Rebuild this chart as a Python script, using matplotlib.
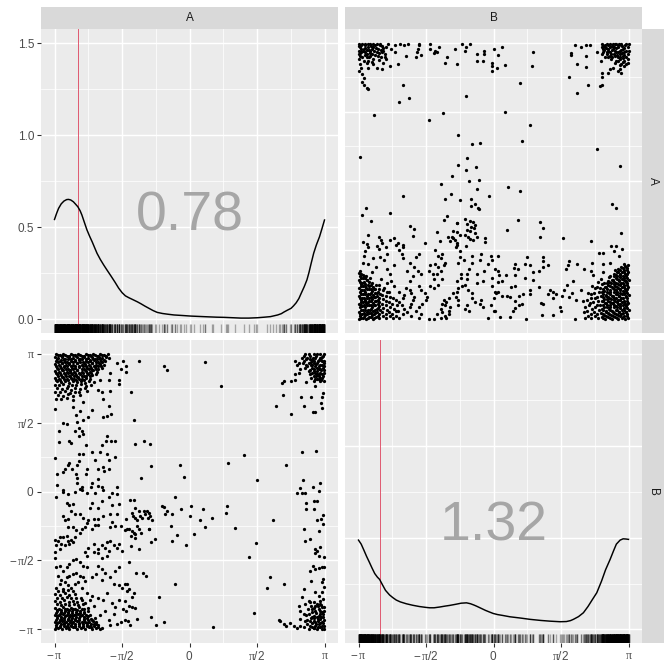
import numpy as np
import matplotlib.pyplot as plt

plt.rcParams['font.family'] = ['Liberation Sans', 'DejaVu Sans']
plt.rcParams['mathtext.fontset'] = 'custom'
plt.rcParams['mathtext.rm'] = 'Liberation Sans'
plt.rcParams['mathtext.it'] = 'Liberation Serif'

# angles are given in units of pi: (A/pi, B/pi)
blob_top = [(-0.99,0.995),(-0.96,0.99),(-0.935,1.0),(-0.905,0.985),(-0.88,0.995),(-0.85,0.99),(-0.825,1.0),(-0.795,0.985),(-0.77,0.995),(-0.74,0.99),(-0.715,1.0),(-0.685,0.985),(-0.66,0.995),(-0.63,0.99),(-0.605,0.995),
    (-1.0,0.975),(-0.975,0.97),(-0.945,0.98),(-0.92,0.965),(-0.89,0.975),(-0.865,0.97),(-0.835,0.98),(-0.81,0.965),(-0.78,0.975),(-0.755,0.97),(-0.725,0.98),(-0.70,0.965),(-0.67,0.975),(-0.645,0.97),(-0.615,0.975),
    (-0.99,0.95),(-0.96,0.945),(-0.93,0.955),(-0.905,0.94),(-0.875,0.95),(-0.85,0.945),(-0.82,0.955),(-0.79,0.94),(-0.765,0.95),(-0.735,0.945),(-0.71,0.955),(-0.68,0.94),(-0.655,0.95),(-0.625,0.945),
    (-1.0,0.925),(-0.97,0.92),(-0.945,0.93),(-0.915,0.915),(-0.89,0.925),(-0.86,0.92),(-0.83,0.93),(-0.80,0.915),(-0.775,0.925),(-0.745,0.92),(-0.72,0.93),(-0.69,0.915),(-0.66,0.925),(-0.635,0.92),
    (-0.985,0.9),(-0.955,0.895),(-0.93,0.905),(-0.90,0.89),(-0.87,0.9),(-0.845,0.895),(-0.815,0.905),(-0.785,0.89),(-0.76,0.9),(-0.73,0.895),(-0.70,0.905),(-0.675,0.89),(-0.645,0.9),
    (-1.0,0.875),(-0.97,0.87),(-0.94,0.88),(-0.91,0.865),(-0.885,0.875),(-0.855,0.87),(-0.83,0.88),(-0.80,0.865),(-0.77,0.875),(-0.74,0.87),(-0.715,0.88),(-0.685,0.865),
    (-0.985,0.85),(-0.955,0.845),(-0.925,0.855),(-0.895,0.84),(-0.87,0.85),(-0.84,0.845),(-0.81,0.855),(-0.785,0.84),(-0.755,0.85),(-0.725,0.845),(-0.695,0.855),
    (-1.0,0.825),(-0.97,0.82),(-0.94,0.83),(-0.91,0.815),(-0.88,0.825),(-0.855,0.82),(-0.825,0.83),(-0.795,0.815),(-0.765,0.825),(-0.735,0.82),
    (-0.985,0.8),(-0.955,0.795),(-0.925,0.805),(-0.895,0.79),(-0.865,0.8),(-0.835,0.795),(-0.805,0.805),(-0.775,0.79),(-0.745,0.8),(-0.71,0.795),
    (-0.995,0.775),(-0.965,0.77),(-0.935,0.78),(-0.9,0.765),(-0.87,0.775),(-0.84,0.77),(-0.805,0.78),(-0.765,0.765),(-0.73,0.775),
    (-0.98,0.75),(-0.945,0.745),(-0.91,0.755),(-0.875,0.74),(-0.845,0.75),(-0.81,0.745),(-0.775,0.755),
    (-0.995,0.725),(-0.96,0.72),(-0.925,0.73),(-0.885,0.715),(-0.85,0.725),(-0.815,0.72),(-0.76,0.73),
    (-0.975,0.7),(-0.94,0.695),(-0.9,0.705),(-0.86,0.69),(-0.81,0.7),
    (-0.99,0.675),(-0.95,0.67),(-0.91,0.68),(-0.865,0.665)]

blob_top_fill = [(-0.975,0.988),(-0.945,0.984),(-0.92,0.99),(-0.89,0.986),(-0.865,0.99),(-0.84,0.984),(-0.81,0.99),(-0.785,0.986),(-0.755,0.99),(-0.73,0.984),(-0.70,0.99),(-0.675,0.986),(-0.645,0.99),(-0.62,0.984),
    (-0.985,0.962),(-0.955,0.958),(-0.93,0.964),(-0.9,0.96),(-0.875,0.964),(-0.85,0.958),(-0.82,0.964),(-0.795,0.96),(-0.77,0.964),(-0.74,0.958),(-0.715,0.964),(-0.685,0.96),(-0.66,0.964),(-0.63,0.958),
    (-0.975,0.937),(-0.945,0.933),(-0.92,0.939),(-0.89,0.935),(-0.86,0.939),(-0.835,0.933),(-0.81,0.939),(-0.78,0.935),(-0.75,0.939),(-0.725,0.933),(-0.695,0.939),(-0.67,0.935),(-0.645,0.939),
    (-0.99,0.912),(-0.96,0.908),(-0.93,0.914),(-0.905,0.91),(-0.875,0.914),(-0.85,0.908),(-0.82,0.914),(-0.79,0.91),(-0.765,0.914),(-0.735,0.908),(-0.71,0.914),(-0.68,0.91),(-0.655,0.914),
    (-0.975,0.887),(-0.945,0.883),(-0.915,0.889),(-0.885,0.885),(-0.86,0.889),(-0.83,0.883),(-0.8,0.889),(-0.775,0.885),(-0.745,0.889),(-0.72,0.883),(-0.69,0.889),
    (-0.99,0.862),(-0.96,0.858),(-0.93,0.864),(-0.9,0.86),(-0.875,0.864),(-0.845,0.858),(-0.815,0.864),(-0.79,0.86),(-0.76,0.864),(-0.73,0.858),
    (-0.975,0.837),(-0.945,0.833),(-0.915,0.839),(-0.885,0.835),(-0.855,0.839),(-0.83,0.833),(-0.8,0.839),(-0.77,0.835),(-0.74,0.839),
    (-0.99,0.812),(-0.96,0.808),(-0.93,0.814),(-0.9,0.81),(-0.87,0.814),(-0.84,0.808),(-0.815,0.814),(-0.785,0.81)]

blob_bottom = [(-1.0,-0.995),(-0.975,-0.99),(-0.945,-1.0),(-0.915,-0.99),(-0.89,-0.995),(-0.86,-0.985),(-0.83,-1.0),(-0.805,-0.99),(-0.775,-0.995),(-0.745,-0.985),(-0.72,-0.995),(-0.69,-0.99),(-0.665,-1.0),
    (-0.99,-0.97),(-0.96,-0.975),(-0.93,-0.965),(-0.905,-0.975),(-0.875,-0.97),(-0.845,-0.975),(-0.82,-0.965),(-0.79,-0.975),(-0.76,-0.97),(-0.735,-0.975),(-0.705,-0.965),(-0.68,-0.97),
    (-1.0,-0.945),(-0.97,-0.95),(-0.945,-0.94),(-0.915,-0.95),(-0.885,-0.945),(-0.86,-0.95),(-0.83,-0.94),(-0.8,-0.95),(-0.775,-0.945),(-0.745,-0.95),(-0.715,-0.94),(-0.69,-0.945),
    (-0.985,-0.92),(-0.955,-0.925),(-0.93,-0.915),(-0.9,-0.925),(-0.87,-0.92),(-0.845,-0.925),(-0.815,-0.915),(-0.785,-0.925),(-0.76,-0.92),(-0.73,-0.925),(-0.7,-0.915),
    (-1.0,-0.895),(-0.97,-0.9),(-0.94,-0.89),(-0.91,-0.9),(-0.885,-0.895),(-0.855,-0.9),(-0.825,-0.89),(-0.795,-0.9),(-0.77,-0.895),(-0.74,-0.9),
    (-0.985,-0.87),(-0.955,-0.875),(-0.925,-0.865),(-0.9,-0.875),(-0.87,-0.87),(-0.84,-0.875),(-0.81,-0.865),(-0.785,-0.875),(-0.755,-0.87),
    (-0.995,-0.845),(-0.965,-0.85),(-0.935,-0.84),(-0.905,-0.85),(-0.875,-0.845),(-0.845,-0.85),(-0.815,-0.84),(-0.785,-0.85),(-0.75,-0.845),
    (-0.98,-0.82),(-0.95,-0.825),(-0.92,-0.815),(-0.89,-0.825),(-0.855,-0.82),(-0.825,-0.825),(-0.79,-0.815),
    (-0.995,-0.795),(-0.96,-0.8),(-0.93,-0.79),(-0.895,-0.8),(-0.865,-0.795),(-0.83,-0.8),(-0.8,-0.79),
    (-0.98,-0.77),(-0.945,-0.775),(-0.91,-0.765),(-0.875,-0.775),(-0.84,-0.77),(-0.805,-0.775),
    (-0.995,-0.745),(-0.96,-0.75),(-0.925,-0.74),(-0.89,-0.75),(-0.85,-0.745),
    (-0.975,-0.72),(-0.94,-0.725),(-0.9,-0.715),(-0.86,-0.725)]

blob_bottom_fill = [(-0.99,-0.982),(-0.96,-0.986),(-0.93,-0.98),(-0.9,-0.984),(-0.875,-0.98),(-0.845,-0.986),(-0.815,-0.98),(-0.79,-0.984),(-0.76,-0.98),(-0.73,-0.986),(-0.705,-0.98),(-0.675,-0.984),
    (-0.985,-0.957),(-0.955,-0.961),(-0.93,-0.955),(-0.9,-0.959),(-0.87,-0.955),(-0.845,-0.961),(-0.815,-0.955),(-0.79,-0.959),(-0.76,-0.955),(-0.73,-0.961),(-0.7,-0.955),
    (-0.99,-0.932),(-0.96,-0.936),(-0.93,-0.93),(-0.9,-0.934),(-0.875,-0.93),(-0.845,-0.936),(-0.815,-0.93),(-0.785,-0.934),(-0.755,-0.93),(-0.72,-0.936),
    (-0.985,-0.907),(-0.955,-0.911),(-0.925,-0.905),(-0.895,-0.909),(-0.87,-0.905),(-0.84,-0.911),(-0.81,-0.905),(-0.78,-0.909),(-0.75,-0.905),
    (-0.99,-0.882),(-0.96,-0.886),(-0.93,-0.88),(-0.9,-0.884),(-0.87,-0.88),(-0.84,-0.886),(-0.81,-0.88),(-0.78,-0.884),
    (-0.98,-0.857),(-0.95,-0.861),(-0.92,-0.855),(-0.89,-0.859),(-0.86,-0.855),(-0.83,-0.861),(-0.8,-0.855)]

left_upper = [(-0.60,0.97),(-0.54,0.93),(-0.49,0.95),(-0.51,0.89),(-0.47,0.91),(-0.47,0.87),
    (-0.59,0.86),(-0.60,0.81),(-0.66,0.81),(-0.68,0.74),(-0.65,0.72),(-0.64,0.67),(-0.59,0.73),(-0.52,0.81),(-0.52,0.78),
    (-1.0,0.60),(-0.86,0.61),(-0.81,0.585),(-0.84,0.556),(-0.79,0.65),(-0.725,0.59),(-0.75,0.543),(-0.79,0.52),(-0.83,0.507),
    (-0.60,0.62),(-0.64,0.54),(-0.61,0.55),(-0.58,0.56),(-0.94,0.50),(-0.91,0.49),(-0.97,0.44),(-0.82,0.46),(-0.80,0.44),
    (-0.79,0.42),(-0.85,0.44),(-0.97,0.36),(-0.89,0.37),(-0.88,0.35),(-0.82,0.40),(-0.61,0.40),(-0.58,0.37),(-0.55,0.37),
    (-0.62,0.37),(-0.65,0.34),(-0.77,0.34),(-0.72,0.29),(-0.66,0.29),(-0.61,0.27),(-0.60,0.23),(-0.55,0.25),(-1.0,0.24),
    (-0.79,0.27),(-0.82,0.27),(-0.82,0.22),(-0.83,0.19),(-0.89,0.21),(-0.90,0.19),(-0.92,0.16),(-0.87,0.16),(-0.70,0.23),
    (-0.64,0.18),(-0.63,0.15),(-0.60,0.16),(-0.68,0.16),(-0.76,0.16),(-0.77,0.13),(-0.985,0.125),(-0.94,0.145),(-0.84,0.125),
    (-0.83,0.10),(-0.83,0.065),(-0.725,0.065),(-0.68,0.09),(-0.68,0.04),(-0.65,0.03),(-0.73,0.03),(-0.985,0.05),(-0.94,0.01),
    (-0.80,0.03),(-0.80,0.01),(-0.54,0.03)]

left_lower = [(-0.99,-0.04),(-0.94,0.0),(-0.90,-0.02),(-0.85,0.0),(-0.81,0.02),(-0.76,-0.01),(-0.70,-0.01),(-0.64,0.01),
    (-0.575,-0.01),(-0.54,-0.02),(-0.525,-0.09),(-0.91,-0.08),(-0.89,-0.10),(-0.86,-0.09),(-0.725,-0.08),(-0.74,-0.12),
    (-0.65,-0.07),(-0.60,-0.04),(-0.675,-0.12),(-0.575,-0.10),
    (-0.875,-0.14),(-0.85,-0.16),(-0.94,-0.18),(-0.925,-0.21),(-0.90,-0.20),(-0.81,-0.16),(-0.79,-0.19),(-0.75,-0.21),
    (-0.71,-0.20),(-0.675,-0.20),(-0.64,-0.18),(-0.59,-0.16),(-0.54,-0.16),(-0.76,-0.23),(-0.575,-0.22),(-0.70,-0.24),
    (-0.90,-0.26),(-0.86,-0.26),(-0.84,-0.28),(-0.80,-0.27),(-0.775,-0.26),(-0.725,-0.27),(-0.675,-0.24),(-0.59,-0.26),
    (-0.55,-0.25),(-0.51,-0.25),(-0.475,-0.28),(-0.46,-0.27),(-0.81,-0.30),
    (-0.995,-0.35),(-0.975,-0.36),(-0.96,-0.33),(-0.94,-0.33),(-0.91,-0.32),(-0.90,-0.36),(-0.875,-0.35),(-0.85,-0.33),
    (-0.99,-0.39),(-0.95,-0.38),(-0.925,-0.39),(-0.89,-0.38),(-0.86,-0.37),(-1.0,-0.44),(-0.96,-0.42),(-1.0,-0.48),
    (-0.775,-0.44),(-0.75,-0.41),(-0.71,-0.38),(-0.675,-0.42),(-0.65,-0.39),(-0.61,-0.37),(-0.59,-0.36),(-0.625,-0.41),
    (-0.60,-0.43),(-0.56,-0.39),(-0.54,-0.41),(-0.525,-0.38),(-0.50,-0.43),(-0.71,-0.44),(-0.675,-0.45),(-0.65,-0.48),
    (-0.61,-0.47),(-0.76,-0.47),
    (-0.99,-0.55),(-0.96,-0.54),(-0.94,-0.575),(-0.91,-0.55),(-0.89,-0.53),(-0.86,-0.50),(-0.84,-0.49),(-0.81,-0.51),
    (-0.79,-0.54),(-0.76,-0.55),(-0.975,-0.61),(-0.95,-0.64),(-0.91,-0.62),(-0.89,-0.61),(-0.86,-0.60),(-0.84,-0.59),
    (-0.81,-0.61),(-0.79,-0.62),(-0.96,-0.67),(-0.925,-0.66),(-0.90,-0.68),(-0.85,-0.67),(-0.825,-0.66),(-0.775,-0.65),
    (-0.99,-0.70),(-0.94,-0.71),(-0.875,-0.70),(-0.80,-0.70),
    (-0.675,-0.54),(-0.69,-0.60),(-0.65,-0.56),(-0.625,-0.59),(-0.59,-0.62),(-0.55,-0.575),(-0.525,-0.55),(-0.56,-0.67),
    (-0.525,-0.68),(-0.50,-0.70),(-0.475,-0.67),(-0.65,-0.64),(-0.725,-0.62),
    (-0.76,-0.74),(-0.725,-0.76),(-0.775,-0.81),(-0.74,-0.79),(-0.71,-0.83),(-0.675,-0.77),(-0.64,-0.79),(-0.61,-0.74),
    (-0.575,-0.81),(-0.55,-0.84),(-0.525,-0.79),(-0.49,-0.85),(-0.625,-0.87),(-0.66,-0.90),(-0.60,-0.93),(-0.56,-0.89),
    (-0.54,-0.96),(-0.59,-0.97),(-0.51,-0.95),(-0.475,-0.93),(-0.65,-0.99),(-0.69,-0.96)]

middle = [(-0.377,0.946),(-0.192,0.91),(-0.167,0.879),(0.112,0.937),(0.23,0.768),(0.64,0.62),
    (-0.436,0.724),(-0.41,0.516),(-0.402,0.347),(-0.34,0.367),(-0.296,0.343),(-0.283,0.185),(-0.357,0.101),
    (-0.069,0.193),(-0.041,0.108),(0.287,0.21),(0.405,0.268),(0.502,0.082),
    (-0.444,-0.063),(-0.414,-0.063),(-0.11,-0.037),
    (-0.427,-0.153),(-0.407,-0.121),(-0.422,-0.177),(-0.402,-0.189),(-0.377,-0.14),(-0.365,-0.177),(-0.34,-0.145),
    (-0.316,-0.14),(-0.298,-0.153),(-0.333,-0.165),(-0.291,-0.177),(-0.278,-0.208),(-0.308,-0.194),(-0.353,-0.194),(-0.39,-0.208),
    (-0.469,-0.201),(-0.446,-0.273),(-0.427,-0.285),(-0.414,-0.298),(-0.402,-0.31),(-0.432,-0.322),(-0.407,-0.334),
    (-0.39,-0.249),(-0.372,-0.273),(-0.36,-0.3),(-0.303,-0.273),(-0.434,-0.394),(-0.372,-0.418),
    (-0.204,-0.107),(-0.192,-0.116),(-0.167,-0.14),(-0.18,-0.165),(-0.13,-0.165),(-0.061,-0.124),(0.01,-0.104),
    (0.003,-0.179),(0.1,-0.128),(0.077,-0.206),(0.166,-0.196),(0.114,-0.261),(0.035,-0.307),(-0.024,-0.387),
    (-0.096,-0.317),(-0.13,-0.358),(-0.135,-0.249),(-0.254,-0.346),(-0.283,-0.37),(-0.301,-0.271),
    (0.277,-0.102),(0.27,-0.157),(0.334,-0.264),(0.618,-0.206),(0.494,-0.377),(0.443,-0.476),
    (-0.451,-0.51),(-0.395,-0.595),(-0.345,-0.592),(-0.323,-0.616),(-0.11,-0.67),
    (-0.464,-0.672),(-0.451,-0.708),(-0.464,-0.725),(-0.414,-0.74),(-0.427,-0.769),(-0.446,-0.829),(-0.427,-0.836),
    (-0.402,-0.846),(-0.469,-0.865),(-0.456,-0.938),(-0.439,-0.967),(-0.39,-0.926),(-0.286,-0.909),(-0.229,-0.769),
    (-0.192,-0.945),(-0.246,-0.972),(-0.476,-0.793),
    (0.176,-0.986),(0.479,-0.882),(0.598,-0.624),(0.573,-0.701),(0.665,-0.933)]

right_strip = [(0.783,0.946),(0.795,0.922),(0.808,0.934),(0.832,0.97),(0.85,0.946),(0.87,0.97),(0.882,0.934),(0.894,0.983),
    (0.919,0.995),(0.944,1.0),(0.968,0.995),(0.993,1.0),(0.907,0.898),(0.919,0.874),(0.931,0.91),(0.944,0.85),
    (0.956,0.886),(0.968,0.862),(0.981,0.946),(0.988,0.898),(0.981,0.826),(0.993,0.801),(0.956,0.814),(0.919,0.838),
    (0.894,0.85),(0.882,0.874),(0.857,0.898),(0.82,0.886),(0.808,0.862),(0.783,0.85),(0.697,0.801),(0.684,0.79),
    (0.753,0.801),(0.783,0.806),(0.865,0.794),(0.931,0.765),
    (0.907,0.958),(0.931,0.97),(0.956,0.958),(0.981,0.975),(0.919,0.934),(0.944,0.934),(0.968,0.922),(0.993,0.91),
    (0.944,0.898),(0.968,0.893),(0.931,0.862),(0.956,0.85),(0.993,0.862),(0.968,0.826),(0.931,0.814),(0.907,0.862),
    (0.993,0.946),(0.882,0.995),(0.857,0.995),(0.899,0.922),(0.87,0.91),(0.919,0.801),(0.968,0.801),(0.988,0.838),
    (0.692,0.698),(0.828,0.684),(0.902,0.688),(0.845,0.618),(0.986,0.717),(0.981,0.684),(0.973,0.645),(0.981,0.603),
    (0.912,0.577),(0.926,0.577),(0.753,0.56),
    (0.832,0.287),(0.936,0.292),(0.712,0.195),
    (0.84,0.086),(0.815,0.028),(0.795,-0.008),(0.832,-0.008),(0.857,-0.013),(0.912,0.036),(0.968,0.065),(0.956,0.004),
    (0.865,-0.08),(0.865,-0.124),(0.919,-0.068),(0.944,-0.068),(0.919,-0.124),
    (0.988,-0.172),(0.973,-0.201),(0.944,-0.208),(0.988,-0.237),(0.956,-0.285),(0.845,-0.273),(0.852,-0.358),(0.894,-0.346),
    (0.931,-0.418),(0.944,-0.43),(0.968,-0.406),(0.956,-0.467),(0.993,-0.474),(0.926,-0.443),
    (0.912,-0.539),(0.931,-0.563),(0.956,-0.556),(0.981,-0.551),(0.993,-0.551),(0.894,-0.575),(0.697,-0.672),(0.845,-0.708),
    (0.902,-0.648),(0.988,-0.636),(0.981,-0.66),(0.931,-0.732),(0.956,-0.757),(0.993,-0.696),(0.981,-0.732),
    (0.832,-0.769),(0.808,-0.829),(0.82,-0.865),(0.857,-0.817),(0.882,-0.793),(0.919,-0.805),(0.944,-0.817),(0.968,-0.793),
    (0.988,-0.781),(0.907,-0.853),(0.931,-0.865),(0.956,-0.853),(0.981,-0.841),(0.993,-0.865),(0.845,-0.889),(0.882,-0.889),
    (0.919,-0.901),(0.944,-0.914),(0.968,-0.889),(0.988,-0.914),(0.82,-0.926),(0.857,-0.938),(0.894,-0.938),(0.931,-0.95),
    (0.956,-0.962),(0.981,-0.95),(0.993,-0.974),(0.907,-0.986),(0.944,-0.998),(0.968,-0.986),(0.882,-0.998),(0.845,-0.986),
    (0.82,-0.98),(0.795,-0.993),(0.993,-0.998),(0.919,-0.993),(0.697,-0.962),(0.746,-0.957),(0.771,-0.974),(0.672,-0.938),
    (0.716,-0.974),(0.968,-0.926),(0.919,-0.938),(0.956,-0.901),(0.981,-0.877),(0.931,-0.829),(0.963,-0.817),(0.907,-0.914),
    (0.87,-0.962),(0.931,-0.98),(0.981,-0.98),(0.951,-0.938),(0.894,-0.805)]

right_fill = [(0.89,0.96),(0.915,0.97),(0.94,0.985),(0.965,0.97),(0.99,0.985),(0.9,0.94),(0.925,0.95),(0.95,0.945),
    (0.975,0.955),(0.995,0.93),(0.91,0.915),(0.935,0.925),(0.96,0.91),(0.985,0.92),(0.92,0.89),(0.945,0.875),
    (0.975,0.88),(0.995,0.885),(0.895,0.88),(0.935,0.84),(0.96,0.835),(0.985,0.85),(0.9,0.825),(0.945,0.82),
    (0.975,0.81),(0.86,0.96),(0.84,0.935),(0.865,0.92),(0.85,0.985),
    (0.9,-0.83),(0.925,-0.845),(0.95,-0.83),(0.975,-0.825),(0.995,-0.84),(0.91,-0.875),(0.94,-0.885),(0.965,-0.87),
    (0.99,-0.89),(0.9,-0.92),(0.925,-0.915),(0.95,-0.925),(0.975,-0.91),(0.995,-0.93),(0.91,-0.955),(0.94,-0.965),
    (0.965,-0.955),(0.99,-0.955),(0.925,-0.99),(0.955,-0.985),(0.98,-0.995),(0.895,-0.975),(0.87,-0.93),(0.86,-0.9),
    (0.875,-0.85)]

dens_a_x = [-1.0, -0.985, -0.97, -0.95, -0.93, -0.91, -0.896, -0.88, -0.86, -0.845, -0.827, -0.81, -0.797, -0.78,
            -0.76, -0.74, -0.72, -0.70, -0.685, -0.66, -0.635, -0.611, -0.58, -0.55, -0.525, -0.499, -0.475, -0.45,
            -0.43, -0.413, -0.385, -0.36, -0.33, -0.30, -0.27, -0.239, -0.2, -0.16, -0.115, -0.05, 0.009, 0.07,
            0.133, 0.2, 0.256, 0.32, 0.38, 0.44, 0.504, 0.555, 0.60, 0.653, 0.68, 0.70, 0.725, 0.752, 0.77, 0.79,
            0.81, 0.827, 0.85, 0.87, 0.885, 0.901, 0.92, 0.94, 0.963, 0.98, 1.0]
dens_a_y = [0.543, 0.575, 0.603, 0.628, 0.643, 0.651, 0.652, 0.649, 0.639, 0.627, 0.612, 0.59, 0.567, 0.53,
            0.487, 0.452, 0.42, 0.385, 0.359, 0.325, 0.295, 0.268, 0.234, 0.2, 0.17, 0.145, 0.128, 0.118,
            0.111, 0.105, 0.095, 0.085, 0.072, 0.06, 0.048, 0.038, 0.032, 0.028, 0.024, 0.021, 0.018, 0.016,
            0.014, 0.012, 0.011, 0.009, 0.007, 0.007, 0.009, 0.012, 0.015, 0.024, 0.031, 0.04, 0.05, 0.06, 0.073, 0.09,
            0.113, 0.141, 0.178, 0.215, 0.255, 0.304, 0.36, 0.405, 0.449, 0.49, 0.54]
dens_b_x = [-1.0, -0.98, -0.96, -0.94, -0.918, -0.9, -0.88, -0.86, -0.844, -0.82, -0.8, -0.77, -0.745, -0.72,
            -0.69, -0.646, -0.6, -0.55, -0.5, -0.473, -0.44, -0.4, -0.36, -0.324, -0.28, -0.24, -0.2, -0.17,
            -0.145, -0.126, -0.1, -0.06, -0.03, -0.002, 0.03, 0.07, 0.121, 0.2, 0.27, 0.35, 0.42, 0.493, 0.54,
            0.57, 0.592, 0.63, 0.666, 0.7, 0.73, 0.765, 0.8, 0.83, 0.864, 0.89, 0.91, 0.938, 0.96, 0.98, 1.0]
dens_b_y = [0.487, 0.465, 0.432, 0.398, 0.364, 0.335, 0.305, 0.285, 0.273, 0.24, 0.213, 0.188, 0.173, 0.16,
            0.15, 0.14, 0.132, 0.125, 0.12, 0.118, 0.118, 0.122, 0.127, 0.131, 0.137, 0.143, 0.145, 0.14,
            0.133, 0.127, 0.118, 0.104, 0.095, 0.087, 0.081, 0.076, 0.069, 0.062, 0.055, 0.049, 0.045, 0.042, 0.043,
            0.048, 0.055, 0.07, 0.091, 0.125, 0.16, 0.2, 0.263, 0.325, 0.382, 0.43, 0.465, 0.487, 0.494, 0.493, 0.491]

vline_pos = [-0.828, -0.839]
stat_labels = ['0.78', '1.32']
var_names = ['A', 'B']

pts = (blob_top + blob_top_fill + blob_bottom + blob_bottom_fill + left_upper + left_lower
       + middle + right_strip + right_fill)
A = np.pi * np.array([p[0] for p in pts])
B = np.pi * np.array([p[1] for p in pts])

ang_major = [-np.pi, -np.pi / 2, 0, np.pi / 2, np.pi]
ang_minor = [-3 * np.pi / 4, -np.pi / 4, np.pi / 4, 3 * np.pi / 4]
ang_labels = [r'$-\,\pi$', r'$-\,\pi/2$', r'$0$', r'$\pi/2$', r'$\pi$']
den_major = [0, 0.5, 1.0, 1.5]
den_minor = [0.25, 0.75, 1.25]
ang_lim = (-1.1 * np.pi, 1.1 * np.pi)
den_lim = (-0.074, 1.578)

fig = plt.figure(figsize=(7, 7), dpi=96)
W = 672.0


def box(x0, y0, x1, y1):
    return fig.add_axes([x0 / W, 1 - y1 / W, (x1 - x0) / W, (y1 - y0) / W])


def panel(x0, y0, x1, y1, ylim, ymaj, ymin):
    ax = box(x0, y0, x1, y1)
    ax.set_facecolor('#EBEBEB')
    for s in ax.spines.values():
        s.set_visible(False)
    ax.set_xlim(ang_lim)
    ax.set_ylim(ylim)
    ax.set_xticks(ang_major)
    ax.set_xticks(ang_minor, minor=True)
    ax.set_yticks(ymaj)
    ax.set_yticks(ymin, minor=True)
    ax.grid(which='major', color='white', lw=1.07)
    ax.grid(which='minor', color='white', lw=0.53)
    ax.set_axisbelow(True)
    ax.tick_params(which='both', length=0, labelbottom=False, labelleft=False)
    ax.tick_params(which='major', color='#333333', width=0.8, labelsize=8.8,
                   labelcolor='#4D4D4D', pad=2.2)
    return ax


def strip(x0, y0, x1, y1, label, rot):
    ax = box(x0, y0, x1, y1)
    ax.set_facecolor('#D9D9D9')
    for s in ax.spines.values():
        s.set_visible(False)
    ax.set_xticks([])
    ax.set_yticks([])
    ax.text(0.5, 0.5, label, ha='center', va='center', rotation=rot,
            fontsize=8.8, color='#1A1A1A', transform=ax.transAxes)


ax11 = panel(41, 29, 338, 333, den_lim, den_major, den_minor)
ax12 = panel(345, 29, 642, 333, ang_lim, ang_major, ang_minor)
ax21 = panel(41, 340, 338, 643, ang_lim, ang_major, ang_minor)
ax22 = panel(345, 340, 642, 643, den_lim, den_major, den_minor)

strip(41, 7, 338, 29, var_names[0], 0)
strip(345, 7, 642, 29, var_names[1], 0)
strip(642, 29, 664, 333, var_names[0], -90)
strip(642, 340, 664, 643, var_names[1], -90)

# diagonal: densities, rugs, reference line and statistic
for ax, dx, dy, vals, v, lab in [(ax11, dens_a_x, dens_a_y, A, vline_pos[0], stat_labels[0]),
                                 (ax22, dens_b_x, dens_b_y, B, vline_pos[1], stat_labels[1])]:
    ax.text(0, 0.485, lab, ha='center', va='baseline', fontsize=41.6, color='#A6A6A6')
    ax.axvline(v * np.pi, color='#DF536B', lw=0.7)
    ax.plot(np.pi * np.array(dx), dy, color='black', lw=1.1, solid_joinstyle='round')
    ax.vlines(vals, 0, 0.03, transform=ax.get_xaxis_transform(), colors='black',
              alpha=0.3, lw=1.0)

ax12.scatter(B, A, s=6, color='black', linewidths=0)
ax21.scatter(A, B, s=6, color='black', linewidths=0)

# outer axes
ax11.tick_params(axis='y', which='major', length=2.75, labelleft=True)
ax11.set_yticklabels(['0.0', '0.5', '1.0', '1.5'])
ax21.tick_params(axis='y', which='major', length=2.75, labelleft=True)
ax21.set_yticklabels(ang_labels)
for ax in (ax21, ax22):
    ax.tick_params(axis='x', which='major', length=2.75, labelbottom=True)
    ax.set_xticklabels(ang_labels)

fig.savefig('out.png', dpi=96, facecolor='white')
